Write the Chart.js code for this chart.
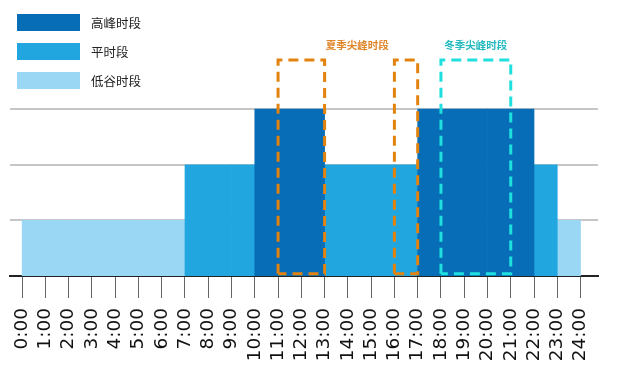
<!DOCTYPE html>
<html>
<head>
<meta charset="utf-8">
<script src="https://cdn.jsdelivr.net/npm/chart.js@4/dist/chart.umd.min.js"></script>
<style>
  html, body { margin: 0; background: #fff; }
  #wrap { width: 626px; height: 375px; position: relative; }
</style>
</head>
<body>
<div id="wrap"><canvas id="tariff"></canvas></div>
<script>
// hour ticks along the x axis
const hours = [0, 1, 2, 3, 4, 5, 6, 7, 8, 9, 10, 11, 12, 13, 14, 15, 16, 17, 18, 19, 20, 21, 22, 23, 24];
const hourLabels = ['0:00', '1:00', '2:00', '3:00', '4:00', '5:00', '6:00', '7:00', '8:00', '9:00',
  '10:00', '11:00', '12:00', '13:00', '14:00', '15:00', '16:00', '17:00', '18:00', '19:00',
  '20:00', '21:00', '22:00', '23:00', '24:00'];

// level of each hour slot (h -> h+1): 1 = 低谷, 2 = 平, 3 = 高峰
const tariffLevel = [1, 1, 1, 1, 1, 1, 1, 2, 2, 2, 3, 3, 3, 2, 2, 2, 2, 3, 3, 3, 3, 3, 2, 1];

const levelNames = ['高峰时段', '平时段', '低谷时段'];
const levelValues = [3, 2, 1];
const levelColors = ['#066db6', '#22a6df', '#9ad7f5'];

// dashed peak windows [start hour, end hour]
const summerPeak = [[11, 13], [16, 17]];
const winterPeak = [[18, 21]];
const boxTop = 3.88;
const boxBottom = 0.04;

const summerColor = '#e3830f';
const winterColor = '#1fe0de';

const peakNotes = [
  { text: '夏季尖峰时段', at: 14.4, color: '#e0862a' },
  { text: '冬季尖峰时段', at: 19.5, color: '#22b9bf' }
];

const barSets = levelValues.map((lv, i) => ({
  type: 'bar',
  label: levelNames[i],
  data: tariffLevel.map((v, h) => v === lv ? { x: hours[h] + 0.5, y: v } : null).filter(Boolean),
  backgroundColor: levelColors[i],
  borderWidth: 0,
  barPercentage: 1,
  categoryPercentage: 1,
  grouped: false,
  order: 2
}));

function boxSet(win, color) {
  return {
    type: 'line',
    label: 'peak',
    data: [
      { x: win[0], y: boxBottom }, { x: win[0], y: boxTop },
      { x: win[1], y: boxTop }, { x: win[1], y: boxBottom }, { x: win[0], y: boxBottom }
    ],
    borderColor: color,
    borderWidth: 3,
    borderDash: [10, 6],
    pointRadius: 0,
    fill: false,
    tension: 0,
    order: 0
  };
}

const lineSets = summerPeak.map(w => boxSet(w, summerColor))
  .concat(winterPeak.map(w => boxSet(w, winterColor)));

const notesPlugin = {
  id: 'notes',
  afterDatasetsDraw(chart) {
    const { ctx, scales } = chart;
    ctx.save();
    ctx.font = 'bold 10.5px "Noto Sans CJK SC"';
    ctx.textAlign = 'center';
    ctx.textBaseline = 'middle';
    peakNotes.forEach(n => {
      ctx.fillStyle = n.color;
      ctx.fillText(n.text, scales.x.getPixelForValue(n.at), scales.y.getPixelForValue(4.15));
    });
    // legend block, top left
    ctx.font = '12.5px "Noto Sans CJK SC"';
    ctx.textAlign = 'left';
    levelNames.forEach((name, i) => {
      const y = 14 + i * 29;
      ctx.fillStyle = levelColors[i];
      ctx.fillRect(17, y, 63, 17);
      ctx.fillStyle = '#222';
      ctx.fillText(name, 91, y + 9);
    });
    ctx.restore();
  }
};

new Chart(document.getElementById('tariff'), {
  type: 'bar',
  data: { datasets: barSets.concat(lineSets) },
  options: {
    responsive: true,
    maintainAspectRatio: false,
    animation: false,
    layout: { padding: { left: 10, right: 28, top: 0, bottom: 0 } },
    plugins: { legend: { display: false }, tooltip: { enabled: false } },
    scales: {
      x: {
        type: 'linear',
        offset: false,
        min: -0.52,
        max: 24.75,
        afterBuildTicks: scale => { scale.ticks = hours.map(v => ({ value: v })); },
        afterFit: scale => { scale.height = 99; },
        ticks: {
          autoSkip: false,
          minRotation: 90,
          maxRotation: 90,
          padding: 10,
          color: '#111',
          font: { family: 'DejaVu Sans', size: 18.5 },
          callback: (v) => hourLabels[hours.indexOf(v)]
        },
        grid: { offset: false, drawOnChartArea: false, drawTicks: true, tickLength: 22, color: '#666' },
        border: { display: true, color: '#222', width: 2 }
      },
      y: {
        min: 0,
        max: 4.96,
        afterBuildTicks: scale => { scale.ticks = [1, 2, 3].map(v => ({ value: v })); },
        ticks: { display: false },
        grid: { drawTicks: false, color: '#c6c6c6', lineWidth: 2 },
        border: { display: false }
      }
    }
  },
  plugins: [notesPlugin]
});
</script>
</body>
</html>
